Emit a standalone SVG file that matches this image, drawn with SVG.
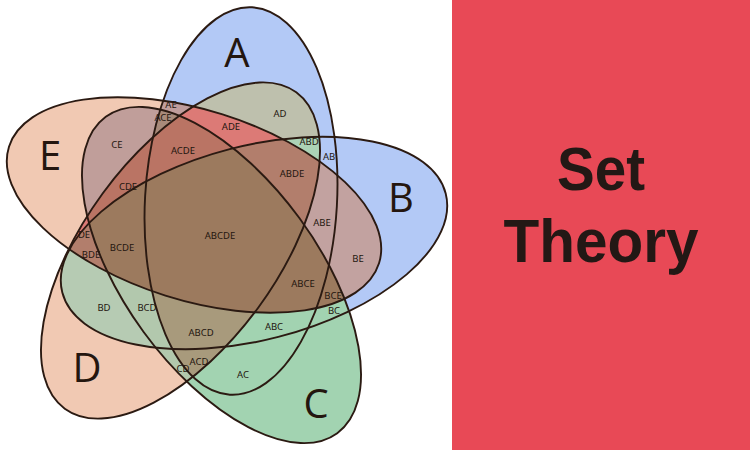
<svg xmlns="http://www.w3.org/2000/svg" xmlns:xlink="http://www.w3.org/1999/xlink" width="750" height="450" viewBox="0 0 750 450">
<style>
.ol{fill:none;stroke:#2b1a12;stroke-width:1.9}
.big{font-family:"Open Sans","Noto Sans","Liberation Sans",sans-serif;font-size:40px;fill:#24160f;text-anchor:middle}
.sm{font-family:"Noto Sans","Liberation Sans",sans-serif;font-size:9.5px;fill:#24160f;text-anchor:middle}
.title{font-family:"Liberation Sans",Arial,sans-serif;font-weight:bold;font-size:62px;fill:#231815;text-anchor:middle}
</style>
<defs>
<ellipse id="eA" rx="194" ry="96" transform="translate(241,201) rotate(-86.7)"/>
<ellipse id="eB" rx="198" ry="97" transform="translate(254,243) rotate(-14.5)"/>
<ellipse id="eC" rx="196" ry="96.5" transform="translate(221.5,275) rotate(53.8)"/>
<ellipse id="eD" rx="196" ry="96.5" transform="translate(180.5,250.5) rotate(-53.8)"/>
<ellipse id="eE" rx="194" ry="95" transform="translate(194,205) rotate(17.5)"/>
<clipPath id="cA"><use xlink:href="#eA"/></clipPath>
<clipPath id="cB"><use xlink:href="#eB"/></clipPath>
<clipPath id="cC"><use xlink:href="#eC"/></clipPath>
<clipPath id="cD"><use xlink:href="#eD"/></clipPath>
<clipPath id="cE"><use xlink:href="#eE"/></clipPath>
</defs>
<rect width="750" height="450" fill="#ffffff"/>
<rect id="banner" x="452" y="0" width="298" height="450" fill="#e84956"/>
<g id="fills">
<use xlink:href="#eA" fill="#b3c9f6"/>
<use xlink:href="#eB" fill="#b3c9f6"/>
<use xlink:href="#eD" fill="#f1c9b3"/>
<use xlink:href="#eE" fill="#f1c9b3"/>
<use xlink:href="#eC" fill="#a2d3b1"/>
<g clip-path="url(#cA)"><use xlink:href="#eD" fill="#bec0ad"/></g>
<g clip-path="url(#cB)"><use xlink:href="#eD" fill="#b6cbb3"/></g>
<g clip-path="url(#cC)"><use xlink:href="#eD" fill="#b2c8ad"/></g>
<g clip-path="url(#cA)"><g clip-path="url(#cB)"><use xlink:href="#eD" fill="#acd3b6"/></g></g>
<g clip-path="url(#cA)"><g clip-path="url(#cC)"><use xlink:href="#eD" fill="#a89a7c"/></g></g>
<g clip-path="url(#cA)"><use xlink:href="#eE" fill="#c09d9c"/></g>
<g clip-path="url(#cB)"><use xlink:href="#eE" fill="#c2a2a0"/></g>
<g clip-path="url(#cC)"><use xlink:href="#eE" fill="#c09e9a"/></g>
<g clip-path="url(#cA)"><g clip-path="url(#cC)"><use xlink:href="#eE" fill="#a88a7a"/></g></g>
<g clip-path="url(#cD)"><use xlink:href="#eE" fill="#dc7a76"/></g>
<g clip-path="url(#cD)"><g clip-path="url(#cC)"><use xlink:href="#eE" fill="#ba7464"/></g></g>
<g clip-path="url(#cD)"><g clip-path="url(#cB)"><use xlink:href="#eE" fill="#b27e6c"/></g></g>
<g clip-path="url(#cB)"><g clip-path="url(#cC)"><use xlink:href="#eE" fill="#9c7a5e"/></g></g>
</g>
<g id="set-A"><use xlink:href="#eA" class="ol"/><text class="big" x="237" y="67">A</text></g>
<g id="set-B"><use xlink:href="#eB" class="ol"/><text class="big" x="401" y="212">B</text></g>
<g id="set-C"><use xlink:href="#eC" class="ol"/><text class="big" x="316" y="418">C</text></g>
<g id="set-D"><use xlink:href="#eD" class="ol"/><text class="big" x="87" y="382">D</text></g>
<g id="set-E"><use xlink:href="#eE" class="ol"/><text class="big" x="50" y="170">E</text></g>
<g id="region-labels">
<text class="sm" x="171" y="108">AE</text>
<text class="sm" x="163" y="121">ACE</text>
<text class="sm" x="231" y="130">ADE</text>
<text class="sm" x="280" y="117">AD</text>
<text class="sm" x="309" y="145">ABD</text>
<text class="sm" x="329" y="160">AB</text>
<text class="sm" x="117" y="148">CE</text>
<text class="sm" x="183" y="154">ACDE</text>
<text class="sm" x="292" y="177">ABDE</text>
<text class="sm" x="128" y="190">CDE</text>
<text class="sm" x="322" y="226">ABE</text>
<text class="sm" x="220" y="239">ABCDE</text>
<text class="sm" x="84" y="238">DE</text>
<text class="sm" x="122" y="251">BCDE</text>
<text class="sm" x="91" y="258">BDE</text>
<text class="sm" x="358" y="262">BE</text>
<text class="sm" x="303" y="287">ABCE</text>
<text class="sm" x="333" y="299">BCE</text>
<text class="sm" x="334" y="314">BC</text>
<text class="sm" x="104" y="311">BD</text>
<text class="sm" x="147" y="311">BCD</text>
<text class="sm" x="274" y="330">ABC</text>
<text class="sm" x="201" y="336">ABCD</text>
<text class="sm" x="199" y="365">ACD</text>
<text class="sm" x="183" y="372">CD</text>
<text class="sm" x="243" y="378">AC</text>
</g>
<g id="title">
<text class="title" x="601" y="190" textLength="88" lengthAdjust="spacingAndGlyphs">Set</text>
<text class="title" x="601" y="262" textLength="195" lengthAdjust="spacingAndGlyphs">Theory</text>
</g>
</svg>
